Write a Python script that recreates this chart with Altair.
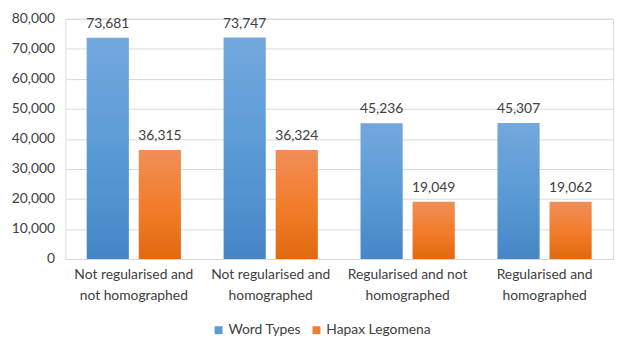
import altair as alt
import pandas as pd

categories = [
    "Not regularised and|not homographed",
    "Not regularised and|homographed",
    "Regularised and not|homographed",
    "Regularised and|homographed",
]
series = ["Word Types", "Hapax Legomena"]
word_types = [73681, 73747, 45236, 45307]
hapax = [36315, 36324, 19049, 19062]

rows = []
for c, w, h in zip(categories, word_types, hapax):
    rows.append({"cat": c, "series": series[0], "value": w})
    rows.append({"cat": c, "series": series[1], "value": h})
df = pd.DataFrame(rows)

FONT = "Lato"
TXT = "#404040"

blue_grad = alt.Gradient(
    gradient="linear", x1=0, y1=0, x2=0, y2=1,
    stops=[alt.GradientStop(color="#73a8de", offset=0),
           alt.GradientStop(color="#5b9bd5", offset=0.5),
           alt.GradientStop(color="#4686c6", offset=1)],
)
orange_grad = alt.Gradient(
    gradient="linear", x1=0, y1=0, x2=0, y2=1,
    stops=[alt.GradientStop(color="#f08e58", offset=0),
           alt.GradientStop(color="#f27d2c", offset=0.5),
           alt.GradientStop(color="#e2690f", offset=1)],
)

x_enc = alt.X(
    "cat:N", sort=categories, title=None,
    scale=alt.Scale(paddingInner=0, paddingOuter=0),
    axis=alt.Axis(labelAngle=0, labelExpr="split(datum.label, '|')",
                  domain=False, ticks=False, labelPadding=9,
                  labelFontSize=14, labelLineHeight=21, labelColor=TXT,
                  labelFont=FONT),
)
xo_enc = alt.XOffset(
    "series:N", sort=series,
    scale=alt.Scale(domain=series, paddingInner=0.19, paddingOuter=0.41),
)
y_enc = alt.Y(
    "value:Q", title=None,
    scale=alt.Scale(domain=[0, 80000]),
    axis=alt.Axis(values=list(range(0, 80001, 10000)), format=",.0f",
                  domain=False, ticks=False, labelPadding=11,
                  gridColor="#d9d9d9", gridWidth=1,
                  labelFontSize=14, labelColor=TXT, labelFont=FONT),
)

base = alt.Chart(df)

bars_blue = base.transform_filter(alt.datum.series == series[0]).mark_bar(
    color=blue_grad).encode(x=x_enc, xOffset=xo_enc, y=y_enc)
bars_orange = base.transform_filter(alt.datum.series == series[1]).mark_bar(
    color=orange_grad).encode(x=x_enc, xOffset=xo_enc, y=y_enc)

labels = base.mark_text(dy=-14, fontSize=14, font=FONT, color=TXT).encode(
    x=x_enc, xOffset=xo_enc, y=y_enc,
    text=alt.Text("value:Q", format=","),
)

legend_layer = base.mark_square(opacity=0).encode(
    x=x_enc, xOffset=xo_enc, y=y_enc,
    color=alt.Color(
        "series:N", sort=series,
        scale=alt.Scale(domain=series, range=["#5b9bd5", "#ed7d31"]),
        legend=alt.Legend(orient="none", legendX=148, legendY=308,
                          direction="horizontal", title=None,
                          symbolType="square", symbolSize=64, symbolOpacity=1,
                          symbolStrokeWidth=0,
                          labelFontSize=14, labelFont=FONT, labelColor=TXT,
                          columnPadding=8, labelOffset=3),
    ),
)

chart = alt.layer(bars_blue, bars_orange, labels, legend_layer).properties(
    width=554, height=243,
    padding={"left": 3, "top": 2, "right": 2, "bottom": 2},
).configure_view(stroke=None).configure(background="white")

chart.save("out.html", embed_options={"renderer": "svg", "actions": False})
